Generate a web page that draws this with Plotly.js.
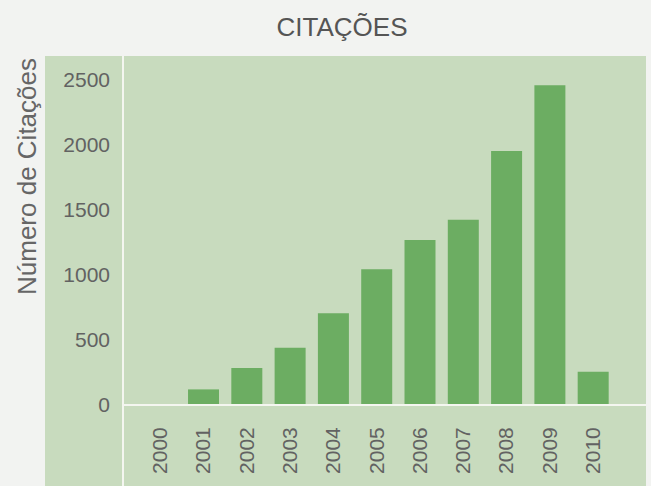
<!DOCTYPE html>
<html>
<head>
<meta charset="utf-8">
<script src="https://cdn.plot.ly/plotly-3.0.1.min.js"></script>
<style>html,body{margin:0;padding:0;background:#f2f3f1;}#chart{width:651px;height:486px;}</style>
</head>
<body>
<div id="chart"></div>
<script>
const years = ["2000","2001","2002","2003","2004","2005","2006","2007","2008","2009","2010"];
const citations = [0, 120, 285, 440, 705, 1045, 1270, 1425, 1955, 2460, 255];
const yTicks = [0, 500, 1000, 1500, 2000, 2500];
const chartTitle = "CITAÇÕES";
const yTitle = "Número de Citações";

const FONT = "'Liberation Sans Narrow', 'Arial Narrow', 'Liberation Sans', Arial, sans-serif";
const panel = "#c8dbbe";
const barColor = "#6cad62";
const textColor = "#626262";

const data = [{
  type: "bar",
  x: years,
  y: citations,
  marker: {color: barColor, line: {width: 0}},
  hoverinfo: "x+y"
}];

const layout = {
  width: 651, height: 486,
  margin: {l: 123, r: 5, t: 56, b: 81, pad: 0},
  paper_bgcolor: "#f2f3f1",
  plot_bgcolor: "rgba(0,0,0,0)",
  bargap: 0.284,
  showlegend: false,
  font: {family: FONT, color: textColor, size: 21},
  title: {
    text: chartTitle,
    x: 342/651, xanchor: "center",
    y: 1 - 27/486, yanchor: "middle", yref: "container",
    font: {family: FONT, size: 26, color: "#555555"}
  },
  xaxis: {
    type: "category",
    range: [-0.86, 11.22],
    tickangle: -90,
    tickfont: {family: FONT, size: 21, color: textColor},
    showgrid: false, zeroline: false, showline: false,
    ticks: "", ticklabelstandoff: 17
  },
  yaxis: {
    range: [0, 2685],
    tickvals: yTicks,
    ticktext: yTicks.map(String),
    tickfont: {family: FONT, size: 21, color: textColor},
    showgrid: false, zeroline: false, showline: false,
    ticks: "", ticklabelstandoff: 12
  },
  shapes: [
    {type: "rect", xref: "paper", yref: "paper", layer: "below",
     x0: (45-123)/523, x1: 1, y0: (405-486)/349, y1: 1,
     fillcolor: panel, line: {width: 0}},
    {type: "line", xref: "paper", yref: "paper", layer: "above",
     x0: 0, x1: 0, y0: (405-486)/349, y1: 1,
     line: {color: "#f4f6f0", width: 2}},
    {type: "line", xref: "paper", yref: "paper", layer: "above",
     x0: 0, x1: 1, y0: 0, y1: 0,
     line: {color: "#f4f6f0", width: 2}}
  ],
  annotations: [{
    text: yTitle, textangle: -90,
    xref: "paper", yref: "paper",
    x: (27-123)/523, y: (405-177)/349,
    xanchor: "center", yanchor: "middle",
    showarrow: false,
    font: {family: FONT, size: 26, color: "#666666"}
  }]
};

Plotly.newPlot("chart", data, layout, {displayModeBar: false, staticPlot: true});
</script>
</body>
</html>
